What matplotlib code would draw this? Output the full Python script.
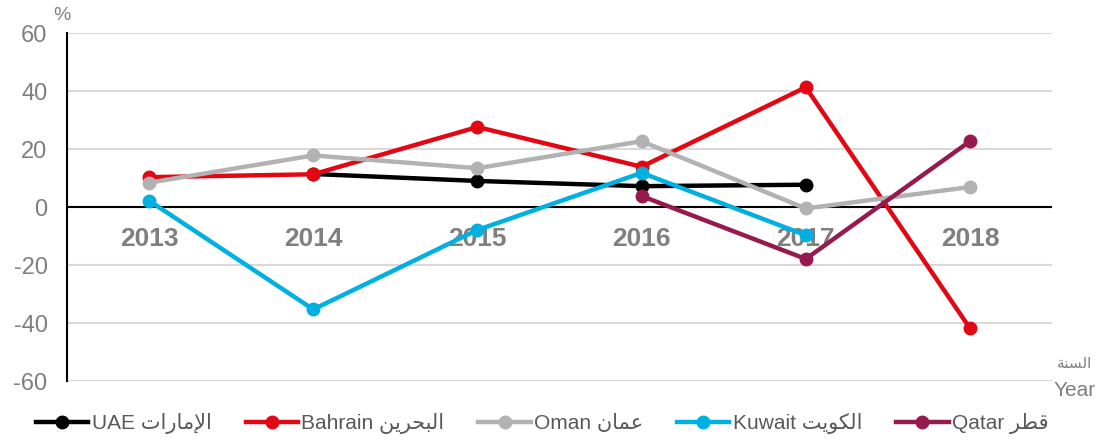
import numpy as np
import matplotlib
matplotlib.use("Agg")
import matplotlib.pyplot as plt

plt.rcParams['font.family'] = ['Liberation Sans', 'DejaVu Sans']
plt.rcParams['axes.unicode_minus'] = False

years = ['2013', '2014', '2015', '2016', '2017', '2018']
uae = [np.nan, 11.4, 9.0, 7.2, 7.7, np.nan]
bahrain = [10.3, 11.3, 27.6, 13.9, 41.3, -41.8]
oman = [8.4, 17.8, 13.4, 22.7, -0.5, 6.9]
kuwait = [2.2, -35.3, -7.9, 11.8, -9.7, np.nan]
qatar = [np.nan, np.nan, np.nan, 3.8, -17.9, 22.7]

names_en = ['UAE', 'Bahrain', 'Oman', 'Kuwait', 'Qatar']
names_ar = ['الإمارات', 'البحرين', 'عمان', 'الكويت', 'قطر']
colors = ['#000000', '#E30613', '#B2B2B2', '#00B0E0', '#961A4E']

# contextual forms: isolated, final, initial, medial
FORMS = {
    'ا': (0xFE8D, 0xFE8E, None, None),
    'إ': (0xFE87, 0xFE88, None, None),
    'ة': (0xFE93, 0xFE94, None, None),
    'ر': (0xFEAD, 0xFEAE, None, None),
    'و': (0xFEED, 0xFEEE, None, None),
    'ب': (0xFE8F, 0xFE90, 0xFE91, 0xFE92),
    'ت': (0xFE95, 0xFE96, 0xFE97, 0xFE98),
    'ح': (0xFEA1, 0xFEA2, 0xFEA3, 0xFEA4),
    'س': (0xFEB1, 0xFEB2, 0xFEB3, 0xFEB4),
    'ط': (0xFEC1, 0xFEC2, 0xFEC3, 0xFEC4),
    'ع': (0xFEC9, 0xFECA, 0xFECB, 0xFECC),
    'ق': (0xFED5, 0xFED6, 0xFED7, 0xFED8),
    'ك': (0xFED9, 0xFEDA, 0xFEDB, 0xFEDC),
    'ل': (0xFEDD, 0xFEDE, 0xFEDF, 0xFEE0),
    'م': (0xFEE1, 0xFEE2, 0xFEE3, 0xFEE4),
    'ن': (0xFEE5, 0xFEE6, 0xFEE7, 0xFEE8),
    'ي': (0xFEF1, 0xFEF2, 0xFEF3, 0xFEF4),
    'لا': (0xFEFB, 0xFEFC, None, None),
    'لإ': (0xFEF9, 0xFEFA, None, None),
}


def shape(word):
    tokens = []
    i = 0
    while i < len(word):
        if word[i] == 'ل' and i + 1 < len(word) and word[i + 1] in 'اإ':
            tokens.append(word[i:i + 2])
            i += 2
        else:
            tokens.append(word[i])
            i += 1
    out = []
    for k, t in enumerate(tokens):
        f = FORMS[t]
        jp = k > 0 and FORMS[tokens[k - 1]][2] is not None
        jn = f[2] is not None and k + 1 < len(tokens)
        if jp and jn:
            c = f[3]
        elif jp:
            c = f[1]
        elif jn:
            c = f[2]
        else:
            c = f[0]
        out.append(chr(c))
    return ''.join(reversed(out))


series = [uae, bahrain, oman, kuwait, qatar]

fig = plt.figure(figsize=(11, 4.41), dpi=100)
ax = fig.add_axes([0.0609, 0.136, 0.8955, 0.789])

x = np.arange(len(years))
for vals, en, ar, col in zip(series, names_en, names_ar, colors):
    ax.plot(x, vals, color=col, lw=3.2, marker='o', markersize=9,
            label=en + ' ' + shape(ar), zorder=3)

ax.axhline(0, color='black', lw=1.5, zorder=2)
for i, y in enumerate(years):
    ax.text(i, -11, y, ha='center', va='center', fontsize=19,
            fontweight='bold', color='#7F7F7F', zorder=2.5)

ax.set_xlim(-0.5, len(years) - 0.5)
ax.set_ylim(-60, 60)
ax.set_yticks(np.arange(-60, 61, 20))
ax.set_xticks([])
ax.tick_params(axis='y', length=0, pad=14, labelsize=17, labelcolor='#7F7F7F')
ax.grid(axis='y', color='#D9D9D9', lw=1.5, zorder=0)
ax.set_axisbelow(True)
for s in ['top', 'right', 'bottom']:
    ax.spines[s].set_visible(False)
ax.spines['left'].set_color('black')
ax.spines['left'].set_linewidth(1.5)

fig.text(62 / 1100, 1 - 16 / 441, '%', fontsize=14, color='#7F7F7F',
         ha='center', va='center')
fig.text(1075 / 1100, 1 - 364 / 441, shape('السنة'), fontsize=11,
         color='#7F7F7F', ha='center', va='center')
fig.text(1075 / 1100, 1 - 390 / 441, 'Year', fontsize=15, color='#7F7F7F',
         ha='center', va='center')

fig.legend(loc='center left', bbox_to_anchor=(28 / 1100, 1 - 424 / 441),
           ncol=5, frameon=False, fontsize=15, handlelength=2.5,
           handletextpad=0.15, columnspacing=1.65, borderaxespad=0,
           labelcolor='#595959')

fig.savefig('out.png', dpi=100)
